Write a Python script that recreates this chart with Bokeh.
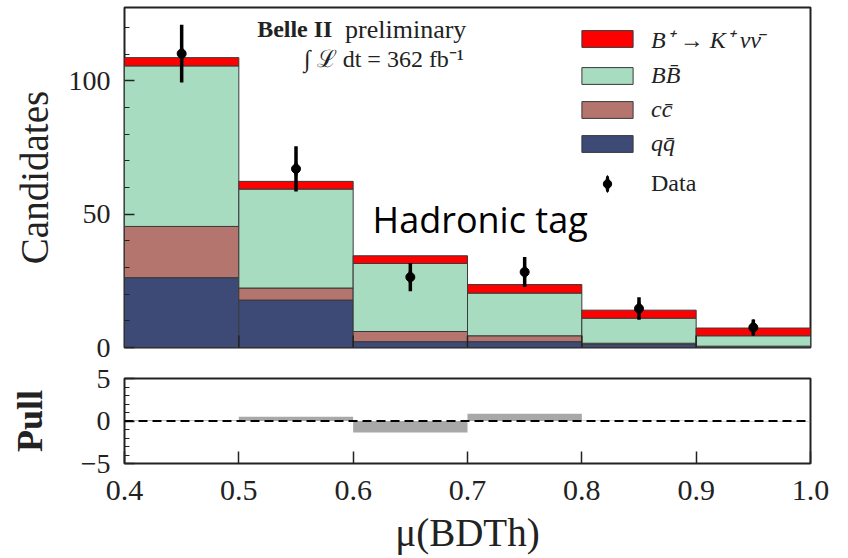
import numpy as np
from bokeh.plotting import figure
from bokeh.layouts import column
from bokeh.models import (Range1d, Legend, LegendItem, Label, FixedTicker, Span,
                          NumeralTickFormatter)
from bokeh.embed import file_html
from bokeh.resources import INLINE

# ---------------- data ----------------
bin_edges = [0.4, 0.5, 0.6, 0.7, 0.8, 0.9, 1.0]
qqbar = [26.2, 17.8, 2.2, 2.2, 1.2, 0.3]
ccbar = [19.2, 4.5, 3.8, 2.2, 0.4, 0.2]
bbbar = [60.2, 37.1, 25.5, 16.0, 9.4, 3.9]
signal = [3.1, 2.9, 2.9, 3.2, 3.0, 2.9]
data = [110.2, 67.0, 26.4, 28.3, 14.6, 7.5]
data_err = [10.8, 8.5, 5.3, 5.6, 4.2, 3.0]
pull = [0.1, 0.5, -1.35, 0.85, 0.05, -0.05]

x_ticks = [0.4, 0.5, 0.6, 0.7, 0.8, 0.9, 1.0]
y_ticks = [0, 50, 100]
y_minor = [10, 20, 30, 40, 60, 70, 80, 90, 110, 120]
pull_ticks = [-5, 0, 5]
pull_minor = [-4, -3, -2, -1, 1, 2, 3, 4]
legend_labels = ["B\u207a \u2192 K\u207a \u03bd\u03bd\u0304", "BB\u0304", "cc\u0304", "qq\u0304"]

C_SIG = "#ff0000"
C_BB = "#a8dcc0"
C_CC = "#b5756f"
C_QQ = "#3c4a75"
EDGE = "#3a3a3a"
TXT = "#222222"
SERIF = "Liberation Serif"

left = np.array(bin_edges[:-1])
right = np.array(bin_edges[1:])
centers = (left + right) / 2
b0 = np.zeros(len(left))
b1 = b0 + np.array(qqbar)
b2 = b1 + np.array(ccbar)
b3 = b2 + np.array(bbbar)
b4 = b3 + np.array(signal)
d = np.array(data)
de = np.array(data_err)


def style_y(ax, ticks, minor):
    ax.ticker = FixedTicker(ticks=ticks, minor_ticks=minor)
    ax.major_tick_in = 10
    ax.major_tick_out = 0
    ax.minor_tick_in = 5
    ax.minor_tick_out = 0
    ax.axis_line_color = None
    ax.major_tick_line_color = TXT
    ax.minor_tick_line_color = TXT
    ax.major_tick_line_width = 1.5
    ax.minor_tick_line_width = 1.2
    ax.major_label_text_font = SERIF
    ax.major_label_text_font_size = "28px"
    ax.major_label_text_color = TXT
    ax.major_label_standoff = 14
    ax.axis_label_text_font = SERIF
    ax.axis_label_text_color = TXT


# ---------------- main panel ----------------
p = figure(frame_width=686, frame_height=340,
           x_range=Range1d(0.4, 1.0), y_range=Range1d(0, 127.5),
           output_backend="svg", toolbar_location=None,
           min_border_left=124, min_border_right=38,
           min_border_top=7, min_border_bottom=16)
p.grid.visible = False
p.xaxis.visible = False
p.outline_line_color = TXT
p.outline_line_width = 2

r_qq = p.quad(left=left, right=right, bottom=b0, top=b1, fill_color=C_QQ,
              line_color=EDGE, line_width=1)
r_cc = p.quad(left=left, right=right, bottom=b1, top=b2, fill_color=C_CC,
              line_color=EDGE, line_width=1)
r_bb = p.quad(left=left, right=right, bottom=b2, top=b3, fill_color=C_BB,
              line_color=EDGE, line_width=1)
r_sig = p.quad(left=left, right=right, bottom=b3, top=b4, fill_color=C_SIG,
               line_color=EDGE, line_width=1)

# inner x ticks of the upper panel (vertical dash markers at y = 0, clipped by the frame)
p.scatter(x=x_ticks[1:-1], y=[0] * (len(x_ticks) - 2), marker="dash", angle=np.pi / 2,
          size=24, line_color=TXT, line_width=1.5)

# thin vertical ellipse under each error bar: gives the legend its vertical bar
r_bar = p.ellipse(x=centers, y=d, width=3, height=16, width_units="screen",
                  height_units="screen", fill_color="black", line_color="black",
                  line_width=1)
p.segment(x0=centers, y0=d - de, x1=centers, y1=d + de, line_color="black", line_width=3.5)
r_pts = p.scatter(centers, d, size=9, color="black")

style_y(p.yaxis[0], y_ticks, y_minor)
p.yaxis.axis_label = "Candidates"
p.yaxis.axis_label_text_font_size = "39px"
p.yaxis.axis_label_text_font_style = "normal"
p.yaxis.axis_label_standoff = 10

legA = Legend(items=[LegendItem(label=legend_labels[0], renderers=[r_sig]),
                     LegendItem(label=legend_labels[1], renderers=[r_bb]),
                     LegendItem(label=legend_labels[2], renderers=[r_cc]),
                     LegendItem(label=legend_labels[3], renderers=[r_qq])],
              location=(451, 190), padding=0, margin=0, spacing=7,
              glyph_width=64, glyph_height=21, label_height=21, label_standoff=12,
              label_text_font=SERIF, label_text_font_size="24px",
              label_text_font_style="italic", label_text_color=TXT,
              background_fill_alpha=0, border_line_alpha=0)
legB = Legend(items=[LegendItem(label="Data", renderers=[r_bar, r_pts])],
              location=(451, 150), padding=0, margin=0,
              glyph_width=64, glyph_height=21, label_height=21, label_standoff=12,
              label_text_font=SERIF, label_text_font_size="24px",
              label_text_font_style="normal", label_text_color=TXT,
              background_fill_alpha=0, border_line_alpha=0)
p.add_layout(legA)
p.add_layout(legB)

p.add_layout(Label(x=0.516, y=119.4, text="Belle II", text_font=SERIF,
                   text_font_size="24px", text_font_style="bold", text_color=TXT,
                   text_baseline="middle", text_align="left"))
p.add_layout(Label(x=0.699, y=119.4, text="preliminary", text_font=SERIF,
                   text_font_size="26px", text_color=TXT,
                   text_baseline="middle", text_align="right"))
p.add_layout(Label(x=0.697, y=108.2, text="\u222b \u2112 dt = 362 fb\u207b\u00b9",
                   text_font=SERIF, text_font_size="24px", text_color=TXT,
                   text_baseline="middle", text_align="right"))
p.add_layout(Label(x=0.617, y=48.0, text="Hadronic tag", text_font="Open Sans",
                   text_font_size="36px", text_color="black",
                   text_baseline="middle", text_align="left"))

# ---------------- pull panel ----------------
q = figure(frame_width=686, frame_height=85,
           x_range=Range1d(0.4, 1.0), y_range=Range1d(-5, 5),
           output_backend="svg", toolbar_location=None,
           min_border_left=124, min_border_right=38,
           min_border_top=15, min_border_bottom=95)
q.grid.visible = False
q.outline_line_color = TXT
q.outline_line_width = 2

q.quad(left=left, right=right, bottom=0, top=pull, fill_color="#a8a8a8", line_color=None)
q.add_layout(Span(location=0, dimension="width", line_color="black",
                  line_width=2, line_dash="9 5"))

q.xaxis.ticker = FixedTicker(ticks=x_ticks, minor_ticks=[])
q.xaxis.formatter = NumeralTickFormatter(format="0.0")
q.xaxis.major_tick_in = 12
q.xaxis.major_tick_out = 0
q.xaxis.minor_tick_in = 0
q.xaxis.minor_tick_out = 0
q.xaxis.axis_line_color = None
q.xaxis.major_tick_line_color = TXT
q.xaxis.major_tick_line_width = 1.5
q.xaxis.major_label_text_font = SERIF
q.xaxis.major_label_text_font_size = "30px"
q.xaxis.major_label_text_color = TXT
q.xaxis.major_label_standoff = 17
q.xaxis.axis_label = "\u03bc(BDTh)"
q.xaxis.axis_label_text_font = SERIF
q.xaxis.axis_label_text_font_size = "39px"
q.xaxis.axis_label_text_font_style = "normal"
q.xaxis.axis_label_text_color = TXT
q.xaxis.axis_label_standoff = 8

style_y(q.yaxis[0], pull_ticks, pull_minor)
q.yaxis.axis_label = "Pull"
q.yaxis.axis_label_text_font_size = "36px"
q.yaxis.axis_label_text_font_style = "bold"
q.yaxis.axis_label_standoff = 28

layout = column(p, q)
open("out.html", "w").write(file_html(layout, INLINE))
